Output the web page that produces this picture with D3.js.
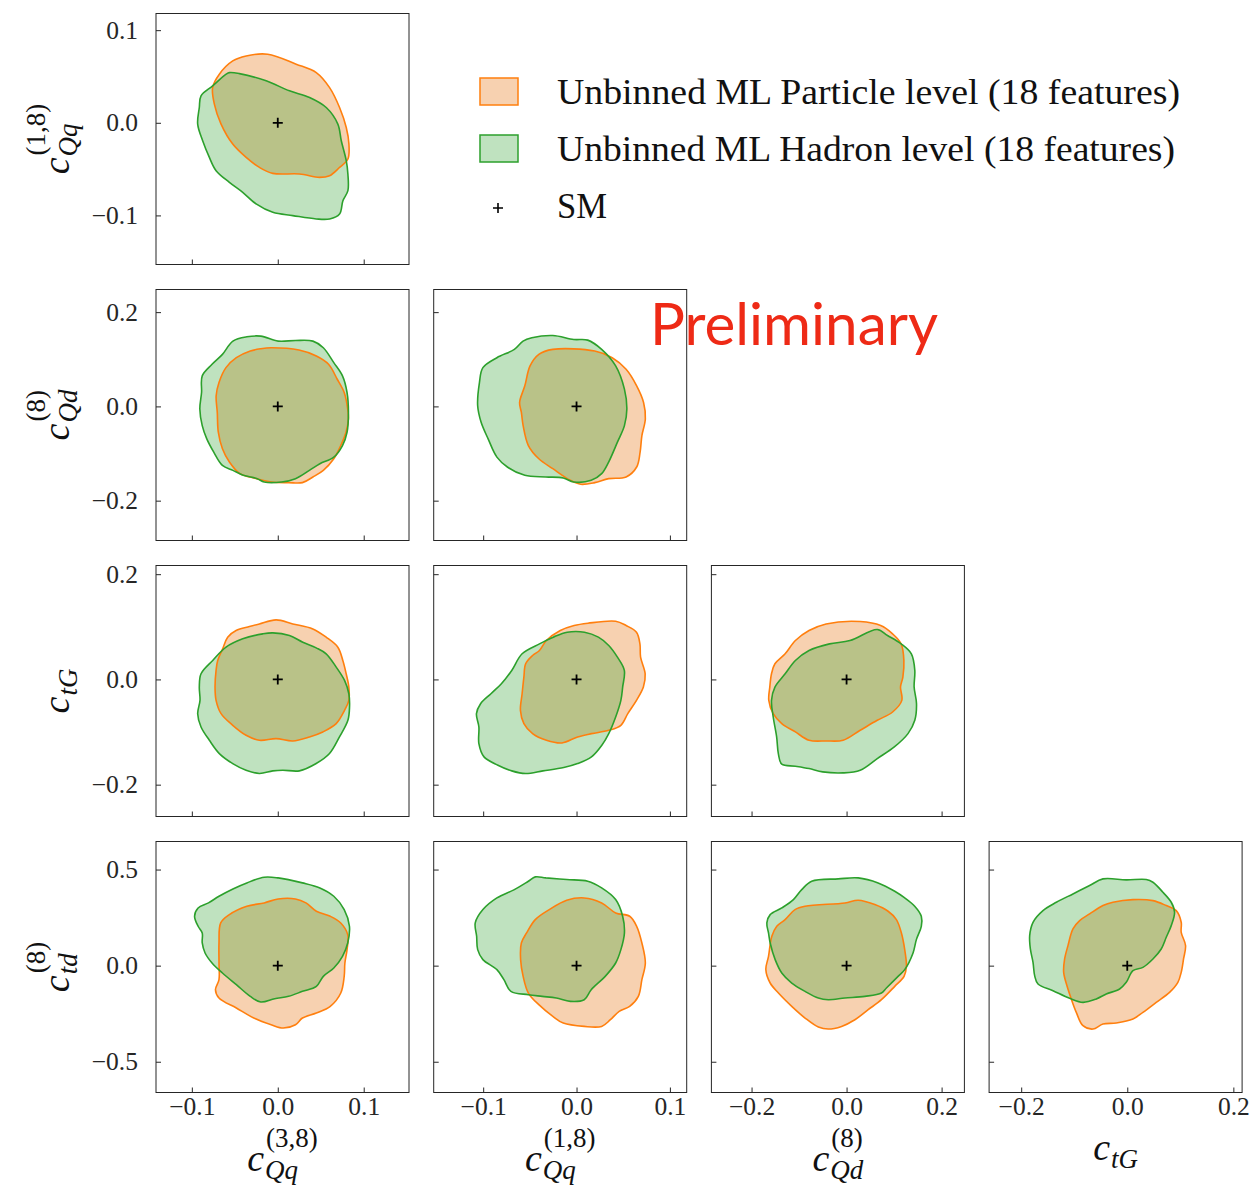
<!DOCTYPE html>
<html>
<head>
<meta charset="utf-8">
<script src="https://cdn.jsdelivr.net/npm/d3@7"></script>
<style>
  body { margin: 0; background: #fff; }
  svg { display: block; }
</style>
</head>
<body>
<svg id="chart" width="1252" height="1190"></svg>
<script>
// Wilson coefficients on the corner-plot axes (index 0..4)
const coeffSubs = ["Qq", "Qq", "Qd", "tG", "td"];
const coeffSups = ["(3,8)", "(1,8)", "(8)", "", "(8)"];
const coeffDomains = [[-0.1417, 0.1527], [-0.153, 0.118], [-0.2845, 0.248], [-0.2605, 0.2165], [-0.66, 0.646]];
const coeffTicks = [[-0.1, 0, 0.1], [-0.1, 0, 0.1], [-0.2, 0, 0.2], [-0.2, 0, 0.2], [-0.5, 0, 0.5]];
const smPoint = [0, 0];
const seriesNames = ["Unbinned ML Particle level (18 features)", "Unbinned ML Hadron level (18 features)"];

// 68% CL contours, [x, y]; name suffix = xCoeff_yCoeff
const particle_0_1 = [[-0.0117,0.074],[0.0214,0.0633],[0.0448,0.0542],[0.0603,0.038],[0.0719,0.0165],[0.0797,-0.0051],[0.0828,-0.023],[0.0816,-0.0391],[0.0719,-0.0482],[0.0603,-0.0571],[0.0486,-0.0589],[0.0253,-0.0553],[-0.0058,-0.0546],[-0.0213,-0.0482],[-0.0368,-0.0374],[-0.0524,-0.023],[-0.066,-0.0014],[-0.0738,0.0202],[-0.0758,0.038],[-0.068,0.0525],[-0.0524,0.0668],[-0.0368,0.0722]];
const hadron_0_1 = [[-0.0563,0.0542],[-0.0446,0.0531],[-0.0135,0.0453],[0.0136,0.0345],[0.037,0.0273],[0.0564,0.0165],[0.0699,-0.0014],[0.0739,-0.0194],[0.0797,-0.0409],[0.0816,-0.0553],[0.0816,-0.0733],[0.0758,-0.0841],[0.0719,-0.0984],[0.0603,-0.1038],[0.0448,-0.1038],[0.0175,-0.1002],[-0.0058,-0.0967],[-0.0252,-0.0876],[-0.0408,-0.0751],[-0.0563,-0.0643],[-0.0718,-0.0517],[-0.0796,-0.0374],[-0.0874,-0.0194],[-0.0932,-0.0014],[-0.0913,0.0165],[-0.0893,0.0291],[-0.0758,0.0399],[-0.0601,0.0525]];

const particle_0_2 = [[-0.0077,0.1244],[0.0247,0.1195],[0.0449,0.1069],[0.0591,0.0893],[0.0692,0.0576],[0.0773,0.0295],[0.0814,-0.0056],[0.0822,-0.0267],[0.0794,-0.0548],[0.0733,-0.083],[0.0652,-0.1111],[0.053,-0.1357],[0.0409,-0.1497],[0.0287,-0.1617],[0.0126,-0.1617],[-0.0077,-0.1603],[-0.0279,-0.1518],[-0.0441,-0.1427],[-0.0563,-0.1181],[-0.0644,-0.09],[-0.0692,-0.0548],[-0.0704,-0.0127],[-0.0717,0.0225],[-0.0684,0.0506],[-0.0603,0.0822],[-0.0482,0.1033],[-0.032,0.1174],[-0.0198,0.1223]];
const hadron_0_2 = [[-0.036,0.1476],[-0.0198,0.149],[0.0004,0.1385],[0.0206,0.1399],[0.0409,0.1385],[0.053,0.1244],[0.0652,0.0928],[0.0753,0.0647],[0.0806,0.0295],[0.0822,-0.0127],[0.0806,-0.0548],[0.0753,-0.083],[0.0652,-0.1076],[0.049,-0.1216],[0.0368,-0.1357],[0.0206,-0.1533],[0.0045,-0.1603],[-0.0158,-0.1603],[-0.0239,-0.1533],[-0.0401,-0.1462],[-0.0522,-0.1357],[-0.0644,-0.1251],[-0.0745,-0.097],[-0.0826,-0.0689],[-0.0879,-0.0408],[-0.0907,-0.0056],[-0.0887,0.0295],[-0.0879,0.0647],[-0.0765,0.0893],[-0.0644,0.1104],[-0.0522,0.1385]];

const particle_1_2 = [[-0.0254,0.1209],[0.0195,0.1174],[0.0382,0.1033],[0.0531,0.0787],[0.0644,0.0436],[0.0718,0.0084],[0.0737,-0.0267],[0.07,-0.0619],[0.0681,-0.097],[0.0644,-0.1286],[0.0531,-0.1497],[0.0344,-0.1533],[0.0195,-0.1617],[0.0045,-0.1652],[-0.0067,-0.1568],[-0.0254,-0.1322],[-0.0404,-0.1111],[-0.0516,-0.083],[-0.0572,-0.0408],[-0.0591,-0.0127],[-0.061,0.0084],[-0.0554,0.0436],[-0.0498,0.0858],[-0.0404,0.1104]];
const hadron_1_2 = [[-0.0479,0.1455],[-0.0254,0.1504],[-0.003,0.142],[0.012,0.1406],[0.0269,0.1209],[0.0419,0.0858],[0.0513,0.0366],[0.0539,-0.0056],[0.0513,-0.0408],[0.0438,-0.0759],[0.0344,-0.1181],[0.0269,-0.1427],[0.0157,-0.1568],[-0.003,-0.1603],[-0.0142,-0.1518],[-0.0329,-0.1497],[-0.0554,-0.1462],[-0.0741,-0.1286],[-0.0853,-0.1076],[-0.0947,-0.0689],[-0.1022,-0.0337],[-0.1059,0.0014],[-0.104,0.0506],[-0.1003,0.0822],[-0.0853,0.1033],[-0.0666,0.1209],[-0.0573,0.1385]];

const particle_0_3 = [[-0.0214,0.1055],[-0.0019,0.1131],[0.0175,0.1055],[0.0408,0.096],[0.0563,0.0803],[0.0699,0.0613],[0.0757,0.036],[0.0796,0.0107],[0.0827,-0.0145],[0.0827,-0.0398],[0.0777,-0.0588],[0.068,-0.084],[0.0524,-0.0998],[0.0369,-0.1093],[0.0175,-0.1169],[-0.0019,-0.1125],[-0.0214,-0.1156],[-0.0369,-0.1062],[-0.0524,-0.0872],[-0.066,-0.0651],[-0.0718,-0.0398],[-0.073,-0.0145],[-0.0718,0.0171],[-0.0699,0.036],[-0.0641,0.0581],[-0.0583,0.0803],[-0.0485,0.0929],[-0.033,0.1005]];
const hadron_0_3 = [[-0.0175,0.0866],[-0.0058,0.0885],[0.0136,0.0834],[0.0291,0.0708],[0.0447,0.06],[0.0563,0.0487],[0.068,0.0234],[0.0777,-0.0019],[0.0827,-0.0272],[0.0835,-0.0524],[0.0816,-0.0777],[0.0718,-0.1093],[0.0602,-0.1409],[0.0447,-0.1599],[0.0252,-0.1738],[0.0058,-0.1725],[-0.0058,-0.1738],[-0.0214,-0.1788],[-0.0369,-0.1725],[-0.0524,-0.1599],[-0.068,-0.1409],[-0.0796,-0.1156],[-0.0893,-0.0904],[-0.0932,-0.0651],[-0.0905,-0.0398],[-0.0913,-0.0145],[-0.0893,0.0107],[-0.0757,0.036],[-0.0602,0.0613],[-0.0408,0.0771]];

const particle_1_3 = [[0.0122,0.1068],[0.0419,0.1106],[0.0531,0.1024],[0.0642,0.0897],[0.0679,0.0676],[0.0686,0.0423],[0.0735,0.0107],[0.0716,-0.0145],[0.0642,-0.0398],[0.0549,-0.0651],[0.0475,-0.0872],[0.0345,-0.0967],[0.016,-0.103],[0.0011,-0.1093],[-0.0156,-0.1207],[-0.0323,-0.1156],[-0.0471,-0.103],[-0.0564,-0.084],[-0.0601,-0.0588],[-0.0583,-0.0272],[-0.0564,0.0044],[-0.0545,0.0297],[-0.0471,0.0455],[-0.0397,0.055],[-0.0323,0.0739],[-0.0174,0.0929],[-0.0026,0.1024]];
const hadron_1_3 = [[-0.01,0.0897],[0.0085,0.0897],[0.0234,0.0803],[0.0345,0.0645],[0.0438,0.0423],[0.0512,0.0171],[0.0494,-0.0145],[0.0475,-0.0398],[0.0419,-0.0714],[0.0345,-0.103],[0.0271,-0.1251],[0.016,-0.1472],[0.0011,-0.1599],[-0.0137,-0.1675],[-0.036,-0.1738],[-0.0545,-0.1788],[-0.0694,-0.1738],[-0.0842,-0.163],[-0.0991,-0.1472],[-0.1046,-0.122],[-0.1046,-0.0904],[-0.1072,-0.0651],[-0.1028,-0.0461],[-0.0917,-0.0272],[-0.0805,-0.0082],[-0.0694,0.0171],[-0.0583,0.0487],[-0.0397,0.0676],[-0.0249,0.0803]];

const particle_2_3 = [[-0.0431,0.1055],[0.0287,0.11],[0.0718,0.1024],[0.0969,0.0866],[0.1149,0.0676],[0.1206,0.036],[0.1185,0.0044],[0.1135,-0.0145],[0.1163,-0.0398],[0.0969,-0.0619],[0.0646,-0.0777],[0.0287,-0.0967],[-0.0072,-0.1156],[-0.0431,-0.1169],[-0.079,-0.1156],[-0.1077,-0.0998],[-0.1364,-0.084],[-0.1544,-0.0651],[-0.1637,-0.0398],[-0.1616,-0.0145],[-0.158,0.0107],[-0.1508,0.0297],[-0.1293,0.0487],[-0.1077,0.0739],[-0.079,0.0929]];
const hadron_2_3 = [[0.0072,0.0739],[0.0646,0.0948],[0.0862,0.0834],[0.1149,0.0676],[0.1364,0.0487],[0.1436,0.0171],[0.1422,-0.0145],[0.1472,-0.0461],[0.1436,-0.0777],[0.1293,-0.103],[0.1005,-0.1283],[0.0646,-0.1504],[0.0287,-0.1725],[-0.0072,-0.1776],[-0.0503,-0.1757],[-0.079,-0.1694],[-0.1077,-0.1649],[-0.1364,-0.1611],[-0.1436,-0.1409],[-0.1472,-0.1093],[-0.1544,-0.0714],[-0.158,-0.0398],[-0.1508,-0.0145],[-0.1293,0.0107],[-0.1077,0.036],[-0.079,0.055],[-0.0359,0.0676]];

const particle_0_4 = [[0.0004,0.3472],[0.0206,0.3472],[0.0328,0.3264],[0.0449,0.283],[0.0611,0.2569],[0.0733,0.2222],[0.0814,0.1615],[0.0806,0.0833],[0.0781,0.0139],[0.0773,-0.0556],[0.0733,-0.1424],[0.0611,-0.2118],[0.0449,-0.2465],[0.0287,-0.2726],[0.0206,-0.3073],[0.0065,-0.3247],[-0.0077,-0.3073],[-0.0279,-0.2726],[-0.0482,-0.2205],[-0.0684,-0.1684],[-0.0725,-0.125],[-0.0684,-0.0729],[-0.0684,0.0139],[-0.0684,0.1181],[-0.0664,0.2222],[-0.0563,0.2656],[-0.036,0.309],[-0.0158,0.3264]];
const hadron_0_4 = [[-0.0158,0.4601],[0.0004,0.4566],[0.0287,0.4306],[0.049,0.4045],[0.0652,0.3611],[0.0773,0.2917],[0.0834,0.2049],[0.0814,0.1181],[0.0753,0.0486],[0.0652,-0.0122],[0.053,-0.0556],[0.0449,-0.1076],[0.0287,-0.1337],[0.0126,-0.1597],[-0.0036,-0.1719],[-0.0198,-0.1892],[-0.032,-0.1597],[-0.0482,-0.099],[-0.0644,-0.0382],[-0.0765,0.0139],[-0.0846,0.066],[-0.0879,0.1181],[-0.0879,0.1701],[-0.0927,0.2049],[-0.0968,0.2569],[-0.0927,0.3003],[-0.0806,0.3264],[-0.0684,0.3611],[-0.0522,0.3993],[-0.036,0.4306]];

const particle_1_4 = [[-0.0105,0.3403],[0.0082,0.3524],[0.0269,0.3264],[0.0419,0.2743],[0.0569,0.2569],[0.0644,0.2049],[0.07,0.1181],[0.0737,0.0139],[0.07,-0.0729],[0.0662,-0.1597],[0.0569,-0.2118],[0.0457,-0.2378],[0.0363,-0.2813],[0.0269,-0.316],[0.0082,-0.316],[-0.0142,-0.2986],[-0.0254,-0.2639],[-0.0404,-0.2031],[-0.0516,-0.1424],[-0.0572,-0.0556],[-0.0599,0.0313],[-0.0591,0.1181],[-0.0535,0.1701],[-0.0442,0.2396],[-0.0292,0.2917]];
const hadron_1_4 = [[-0.0442,0.4618],[-0.0329,0.4566],[-0.0105,0.4479],[0.012,0.4392],[0.0269,0.4045],[0.0419,0.3438],[0.0494,0.2569],[0.0513,0.1701],[0.0475,0.0833],[0.0419,0.0139],[0.0307,-0.0556],[0.0157,-0.125],[0.0082,-0.1771],[-0.0067,-0.1858],[-0.0217,-0.1684],[-0.0367,-0.1597],[-0.0516,-0.151],[-0.0703,-0.1337],[-0.0778,-0.0729],[-0.0853,-0.0208],[-0.1003,0.0313],[-0.1059,0.0833],[-0.107,0.1528],[-0.1085,0.2222],[-0.1003,0.2917],[-0.0853,0.3524],[-0.0666,0.3958],[-0.0516,0.4392]];

const particle_2_4 = [[-0.0874,0.309],[-0.0035,0.3264],[0.0245,0.3403],[0.0594,0.3177],[0.0874,0.283],[0.1049,0.2396],[0.1154,0.1701],[0.1224,0.0833],[0.1259,-0.0035],[0.121,-0.0556],[0.1014,-0.1076],[0.0734,-0.1771],[0.0455,-0.2292],[0.0175,-0.2813],[-0.0105,-0.316],[-0.0385,-0.3299],[-0.0594,-0.3194],[-0.0874,-0.2726],[-0.1154,-0.2118],[-0.1434,-0.1424],[-0.1608,-0.0903],[-0.1699,-0.0208],[-0.1643,0.0486],[-0.1573,0.1528],[-0.1469,0.2049],[-0.1294,0.2396],[-0.1084,0.2917]];
const hadron_2_4 = [[-0.0734,0.4392],[-0.0175,0.4514],[0.0245,0.4566],[0.0664,0.4306],[0.1014,0.3872],[0.1224,0.3524],[0.1434,0.309],[0.1573,0.2569],[0.1573,0.2049],[0.1469,0.1354],[0.1399,0.066],[0.1224,-0.0208],[0.1084,-0.0556],[0.0839,-0.1163],[0.0734,-0.1424],[0.0385,-0.1597],[-0.0035,-0.1684],[-0.0385,-0.1771],[-0.0594,-0.1684],[-0.0874,-0.1337],[-0.1154,-0.0903],[-0.1364,-0.0382],[-0.1503,0.0313],[-0.1608,0.1181],[-0.1643,0.1701],[-0.1678,0.2222],[-0.1608,0.2656],[-0.1364,0.3003],[-0.1119,0.3438],[-0.0944,0.3958]];

const particle_3_4 = [[-0.027,0.3299],[0.0107,0.3438],[0.0484,0.3385],[0.0735,0.3125],[0.0923,0.2865],[0.1017,0.2257],[0.1017,0.1736],[0.1099,0.1042],[0.1061,0.0347],[0.1017,-0.0347],[0.0954,-0.0868],[0.0797,-0.1389],[0.0546,-0.191],[0.0295,-0.2431],[0.0107,-0.2778],[-0.0207,-0.2986],[-0.0458,-0.3038],[-0.0647,-0.3299],[-0.0835,-0.3125],[-0.0961,-0.2431],[-0.1055,-0.1736],[-0.1137,-0.1042],[-0.1199,-0.0347],[-0.1181,0.0347],[-0.1118,0.1042],[-0.1024,0.191],[-0.0898,0.2344],[-0.071,0.2691],[-0.0458,0.3125]];
const hadron_3_4 = [[-0.0458,0.4514],[-0.0019,0.4462],[0.0358,0.4479],[0.0484,0.434],[0.0672,0.3819],[0.0829,0.3299],[0.0892,0.2778],[0.0829,0.2083],[0.0735,0.1476],[0.064,0.0868],[0.0484,0.0347],[0.0295,-0.0087],[0.0107,-0.026],[-0.0019,-0.0868],[-0.0144,-0.1215],[-0.0396,-0.1476],[-0.0584,-0.1736],[-0.0835,-0.191],[-0.1086,-0.1701],[-0.14,-0.1302],[-0.1683,-0.0955],[-0.1746,-0.0521],[-0.1777,0.0174],[-0.1827,0.0868],[-0.184,0.1563],[-0.1777,0.2257],[-0.1589,0.2865],[-0.1337,0.3299],[-0.1024,0.3733],[-0.071,0.4167]];

// lower-triangle panels: x coefficient, y coefficient, contours
const panels = [
  { xi: 0, yi: 1, particle: particle_0_1, hadron: hadron_0_1 },
  { xi: 0, yi: 2, particle: particle_0_2, hadron: hadron_0_2 },
  { xi: 1, yi: 2, particle: particle_1_2, hadron: hadron_1_2 },
  { xi: 0, yi: 3, particle: particle_0_3, hadron: hadron_0_3 },
  { xi: 1, yi: 3, particle: particle_1_3, hadron: hadron_1_3 },
  { xi: 2, yi: 3, particle: particle_2_3, hadron: hadron_2_3 },
  { xi: 0, yi: 4, particle: particle_0_4, hadron: hadron_0_4 },
  { xi: 1, yi: 4, particle: particle_1_4, hadron: hadron_1_4 },
  { xi: 2, yi: 4, particle: particle_2_4, hadron: hadron_2_4 },
  { xi: 3, yi: 4, particle: particle_3_4, hadron: hadron_3_4 }
];

// ---- styling & layout ----
const serif = "'Liberation Serif', 'Times New Roman', serif";
const orangeLine = "#ff7f0e", greenLine = "#2ca02c";
const orangeFill = "rgba(230,115,15,0.33)", greenFill = "rgba(44,160,44,0.3)";
const spineColor = "#262626";
const W = 253, H = 251;
const colX = c => 156 + c * 277.7;
const rowY = r => 13.5 + r * 276;
const nCols = 4;

const svg = d3.select("#chart");
svg.append("rect").attr("width", 1252).attr("height", 1190).attr("fill", "#fff");

const xScales = coeffDomains.map(d => d3.scaleLinear().domain(d).range([0, W]));
const yScales = coeffDomains.map(d => d3.scaleLinear().domain(d).range([H, 0]));
const fmt = d3.format(".1f");

panels.forEach(p => {
  const c = p.xi, r = p.yi - 1;
  const x = xScales[p.xi], y = yScales[p.yi];
  const g = svg.append("g").attr("transform", `translate(${colX(c)},${rowY(r)})`);

  const contour = d3.line()
    .x(d => x(d[0])).y(d => y(d[1]))
    .curve(d3.curveCatmullRomClosed.alpha(0.5));

  g.append("path").attr("d", contour(p.particle)).attr("fill", orangeFill);
  g.append("path").attr("d", contour(p.hadron)).attr("fill", greenFill);
  g.append("path").attr("d", contour(p.particle)).attr("fill", "none")
    .attr("stroke", orangeLine).attr("stroke-width", 1.6).attr("stroke-linejoin", "round");
  g.append("path").attr("d", contour(p.hadron)).attr("fill", "none")
    .attr("stroke", greenLine).attr("stroke-width", 1.6).attr("stroke-linejoin", "round");

  // SM point
  g.append("path")
    .attr("transform", `translate(${x(smPoint[0])},${y(smPoint[1])})`)
    .attr("d", "M-5,0H5M0,-5V5")
    .attr("stroke", "#000").attr("stroke-width", 1.8);

  // axes: inward ticks on left and bottom; labels only on outer panels
  const leftAxis = d3.axisLeft(y).tickValues(coeffTicks[p.yi])
    .tickSizeInner(-5).tickSizeOuter(0).tickPadding(18)
    .tickFormat(c === 0 ? fmt : () => "");
  const gy = g.append("g").call(leftAxis)
    .attr("font-family", serif).attr("font-size", 25.5).attr("color", spineColor);
  gy.select(".domain").remove();

  const bottomAxis = d3.axisBottom(x).tickValues(coeffTicks[p.xi])
    .tickSizeInner(-5).tickSizeOuter(0).tickPadding(4)
    .tickFormat(r === 3 ? fmt : () => "");
  const gx = g.append("g").attr("transform", `translate(0,${H})`).call(bottomAxis)
    .attr("font-family", serif).attr("font-size", 25.5).attr("color", spineColor);
  gx.select(".domain").remove();

  g.append("rect").attr("width", W).attr("height", H)
    .attr("fill", "none").attr("stroke", spineColor).attr("stroke-width", 1);
});

// math-style axis title: italic c with stacked sub/superscript
function mathLabel(parent, sub, sup) {
  const g = parent.append("g").attr("font-family", serif).attr("fill", "#111");
  const cText = g.append("text").attr("font-style", "italic").attr("font-size", 38).text("c");
  const cw = cText.node().getComputedTextLength();
  const subText = g.append("text").attr("x", cw + 1).attr("y", 8)
    .attr("font-style", "italic").attr("font-size", 27).text(sub);
  let w = cw + 1 + subText.node().getComputedTextLength();
  if (sup) {
    const supText = g.append("text").attr("x", cw + 2).attr("y", -24)
      .attr("font-size", 27).text(sup);
    w = Math.max(w, cw + 2 + supText.node().getComputedTextLength());
  }
  g.attr("transform", `translate(${-w / 2},0)`);
}

// bottom titles (x coefficients 0..3)
for (let c = 0; c < nCols; c++) {
  const base = coeffSups[c] ? 1171 : 1160;
  const g = svg.append("g").attr("transform", `translate(${colX(c) + W / 2},${base})`);
  mathLabel(g, coeffSubs[c], coeffSups[c]);
}
// left titles (y coefficients 1..4), rotated
for (let r = 0; r < nCols; r++) {
  const g = svg.append("g").attr("transform", `translate(69,${rowY(r) + H / 2}) rotate(-90)`);
  mathLabel(g, coeffSubs[r + 1], coeffSups[r + 1]);
}

// legend
const legend = svg.append("g").attr("font-family", serif).attr("fill", "#111");
const legendFills = [orangeFill, greenFill], legendLines = [orangeLine, greenLine];
const legendWidths = [623, 618];
seriesNames.forEach((name, i) => {
  const base = 104 + i * 57;
  legend.append("rect").attr("x", 480).attr("y", base - 26).attr("width", 38).attr("height", 27)
    .attr("fill", legendFills[i]).attr("stroke", legendLines[i]).attr("stroke-width", 1.5);
  legend.append("text").attr("x", 557).attr("y", base).attr("font-size", 35)
    .attr("textLength", legendWidths[i]).attr("lengthAdjust", "spacingAndGlyphs").text(name);
});
legend.append("path").attr("transform", "translate(498,208)").attr("d", "M-5,0H5M0,-5V5")
  .attr("stroke", "#000").attr("stroke-width", 1.6);
legend.append("text").attr("x", 557).attr("y", 218).attr("font-size", 35)
  .attr("textLength", 50).attr("lengthAdjust", "spacingAndGlyphs").text("SM");

// status stamp
svg.append("text").attr("x", 650).attr("y", 345)
  .attr("font-family", "Lato, 'Open Sans', sans-serif").attr("font-size", 58)
  .attr("fill", "#ee2a16").attr("textLength", 288).attr("lengthAdjust", "spacingAndGlyphs")
  .text("Preliminary");
</script>
</body>
</html>
